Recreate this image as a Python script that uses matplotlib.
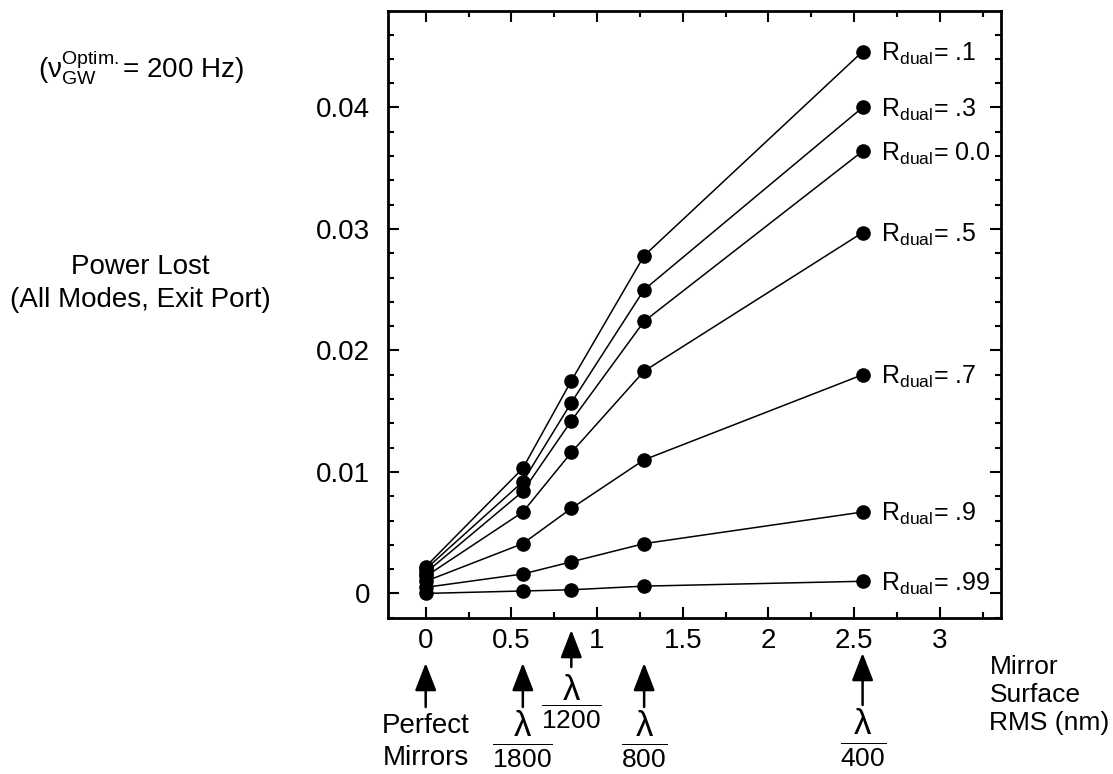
import numpy as np
import matplotlib
matplotlib.use("Agg")
import matplotlib.pyplot as plt
from matplotlib.ticker import MultipleLocator, FuncFormatter

plt.rcParams['font.family'] = ['Liberation Sans', 'DejaVu Sans']
plt.rcParams['mathtext.fontset'] = 'custom'
plt.rcParams['mathtext.rm'] = 'Liberation Sans'
plt.rcParams['mathtext.it'] = 'Liberation Sans:italic'
plt.rcParams['mathtext.bf'] = 'Liberation Sans:bold'
plt.rcParams['mathtext.default'] = 'regular'

# mirror surface rms (nm): perfect, lambda/1800, lambda/1200, lambda/800, lambda/400
x_rms = [0, 0.567, 0.85, 1.275, 2.55]
lambda_div = ['', '1800', '1200', '800', '400']

# power lost for each dual recycling reflectivity
r_dual = ['.1', '.3', '0.0', '.5', '.7', '.9', '.99']
loss_r01 = [0.0022, 0.0103, 0.0175, 0.0278, 0.0446]
loss_r03 = [0.0020, 0.0092, 0.0157, 0.0250, 0.0400]
loss_r00 = [0.0017, 0.0084, 0.0142, 0.0224, 0.0364]
loss_r05 = [0.0014, 0.0067, 0.0116, 0.0183, 0.0297]
loss_r07 = [0.0010, 0.0041, 0.0070, 0.0110, 0.0180]
loss_r09 = [0.0005, 0.0016, 0.0026, 0.0041, 0.0067]
loss_r099 = [0.0000, 0.0002, 0.0003, 0.0006, 0.0010]
losses = [loss_r01, loss_r03, loss_r00, loss_r05, loss_r07, loss_r09, loss_r099]

fs = 20
fig = plt.figure(figsize=(11.13, 7.74), dpi=100)
ax = fig.add_axes([0.3486, 0.2016, 0.5508, 0.7842])

for lab, y in zip(r_dual, losses):
    ax.plot(x_rms, y, '-o', color='k', lw=1.1, ms=9.5)
    ax.annotate(r'$R_{dual}$= ' + lab, xy=(x_rms[-1], y[-1]), xytext=(13, -6.6),
                textcoords='offset points', ha='left', va='baseline', fontsize=18)

ax.set_xlim(-0.22, 3.358)
ax.set_ylim(-0.00202, 0.04794)
ax.xaxis.set_major_locator(MultipleLocator(0.5))
ax.xaxis.set_minor_locator(MultipleLocator(0.25))
ax.yaxis.set_major_locator(MultipleLocator(0.01))
ax.yaxis.set_minor_locator(MultipleLocator(0.002))
fmt = FuncFormatter(lambda v, p: '%g' % round(v, 6))
ax.xaxis.set_major_formatter(fmt)
ax.yaxis.set_major_formatter(fmt)
ax.tick_params(which='both', direction='in', top=True, right=True, width=1.5, labelsize=fs)
ax.tick_params(which='major', length=8)
ax.tick_params(which='minor', length=4)
ax.tick_params(axis='x', pad=7)
ax.tick_params(axis='y', pad=13)
for s in ax.spines.values():
    s.set_linewidth(2)

# arrows marking the surface quality values (y in figure pixels)
arrow_tips = [111, 111, 144, 111, 121]
arrow_tails = [67, 67, 107, 67, 69]
lam_y = [0, 47, 83, 47, 49]
num_y = [0, 16, 55, 16, 17]
pix = ('data', 'figure pixels')
for xv, tip, tail, div, ly, ny in zip(x_rms, arrow_tips, arrow_tails, lambda_div, lam_y, num_y):
    ax.annotate('', xy=(xv, tip), xytext=(xv, tail), xycoords=pix, textcoords=pix,
                arrowprops=dict(arrowstyle='-|>,head_length=0.85,head_width=0.33',
                                mutation_scale=20, lw=1.8, color='k',
                                shrinkA=0, shrinkB=0),
                annotation_clip=False)
    if div:
        ax.annotate(r'$\lambda$', xy=(xv, ly), xycoords=pix, ha='center', va='center',
                    fontsize=25, annotation_clip=False)
        ax.annotate(r'$\overline{' + div + '}$', xy=(xv, ny), xycoords=pix,
                    ha='center', va='center', fontsize=19, annotation_clip=False)

ax.annotate('Perfect', xy=(x_rms[0], 48), xycoords=pix, ha='center', va='center',
            fontsize=fs, annotation_clip=False)
ax.annotate('Mirrors', xy=(x_rms[0], 16), xycoords=pix, ha='center', va='center',
            fontsize=fs, annotation_clip=False)

fig.text(0.889, 0.1021, 'Mirror\nSurface\nRMS (nm)', ha='left', va='center',
         fontsize=19, linespacing=1.2)
fig.text(0.1258, 0.655, 'Power Lost', ha='center', va='center', fontsize=fs)
fig.text(0.1258, 0.6124, '(All Modes, Exit Port)', ha='center', va='center', fontsize=fs)
fig.text(0.1267, 0.9134, r'($\nu_{GW}^{Optim.}$= 200 Hz)', ha='center', va='center', fontsize=fs)

fig.savefig('out.png', dpi=100)
